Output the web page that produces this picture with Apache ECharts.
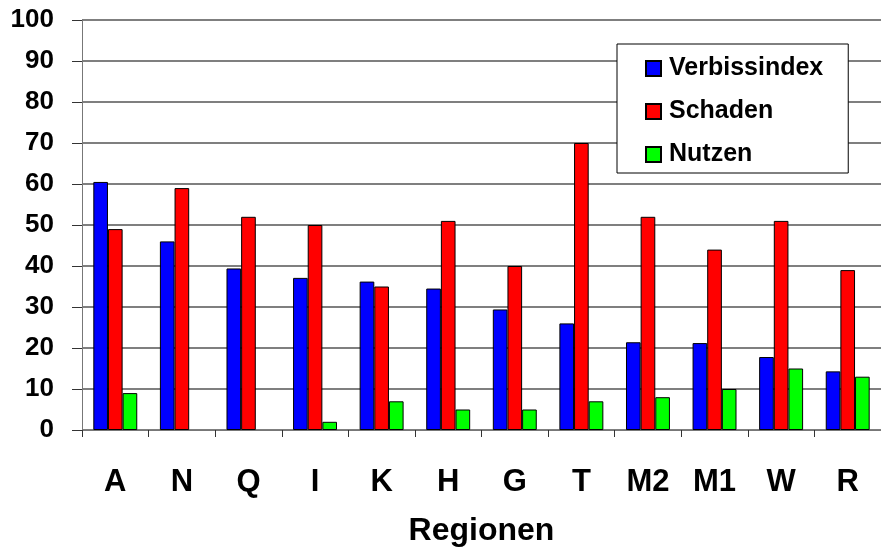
<!DOCTYPE html>
<html><head><meta charset="utf-8">
<script src="https://cdn.jsdelivr.net/npm/echarts@6/dist/echarts.min.js"></script>
<style>html,body{margin:0;padding:0;background:#fff}#c{width:881px;height:552px}</style>
</head><body><div id="c"></div>
<script>
const categories = ['A','N','Q','I','K','H','G','T','M2','M1','W','R'];
const verbissindex = [60.5,46,39.4,37.1,36.2,34.5,29.4,26,21.4,21.2,17.8,14.3];
const schaden = [49,59,52,50,35,51,40,70,52,44,51,39];
const nutzen = [9,null,null,2,7,5,5,7,8,10,15,13];
const seriesNames = ['Verbissindex','Schaden','Nutzen'];
const colors = ['#0000ff','#ff0000','#00ff00'];
const font = '"Liberation Sans", Arial, sans-serif';
const chart = echarts.init(document.getElementById('c'));
const mk = (name, data, i) => ({
  name, type:'bar', data, barGap:'0%', barCategoryGap:'34%',
  itemStyle:{color:colors[i], borderColor:'#000', borderWidth:1},
  animation:false
});
chart.setOption({
  animation:false,
  grid:{left:82, right:-2, top:20, bottom:121, containLabel:false},
  legend:{
    orient:'vertical', left:617, top:44,
    padding:[12,25,6,28], itemGap:18, itemWidth:15, itemHeight:15, icon:'rect',
    backgroundColor:'#fff', borderColor:'#000', borderWidth:1,
    textStyle:{fontFamily:font, fontWeight:'bold', fontSize:25, color:'#000', padding:[0,0,0,3]},
    data:seriesNames
  },
  xAxis:{
    type:'category', data:categories,
    axisLine:{lineStyle:{color:'#777', width:1}},
    axisTick:{show:true, length:7, lineStyle:{color:'#333'}},
    axisLabel:{fontFamily:font, fontWeight:'bold', fontSize:31, color:'#000', margin:37},
    name:'Regionen', nameLocation:'middle', nameGap:85,
    nameTextStyle:{fontFamily:font, fontWeight:'bold', fontSize:32, color:'#000'}
  },
  yAxis:{
    type:'value', min:0, max:100, interval:10,
    axisLine:{show:true, lineStyle:{color:'#777', width:1}},
    axisTick:{show:true, inside:false, length:10, lineStyle:{color:'#333'}},
    axisLabel:{fontFamily:font, fontWeight:'bold', fontSize:26, color:'#000', margin:28},
    splitLine:{lineStyle:{color:'#555', width:1.5}}
  },
  series:[mk(seriesNames[0], verbissindex, 0), mk(seriesNames[1], schaden, 1), mk(seriesNames[2], nutzen, 2)]
});
</script></body></html>
